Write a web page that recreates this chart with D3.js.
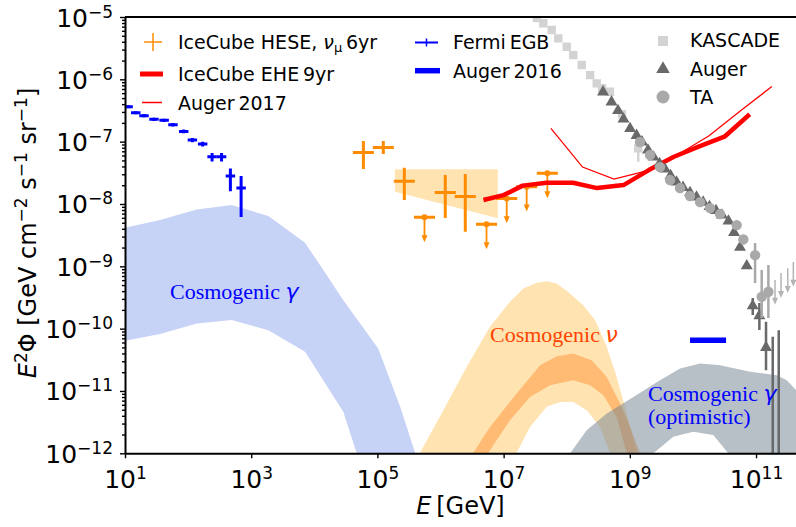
<!DOCTYPE html>
<html>
<head>
<meta charset="utf-8">
<script src="https://cdn.jsdelivr.net/npm/d3@7"></script>
<style>
body { margin: 0; background: #fff; }
svg { display: block; font-family: "DejaVu Sans", sans-serif; }
</style>
</head>
<body>
<div id="chart"></div>
<script>
// ---- data (E in GeV, E^2 Phi in GeV cm^-2 s^-1 sr^-1) ----
const fermiE  = [11.2, 14.8, 20.0, 28.8, 41.7, 57.5, 85.1, 117, 170, 240, 339, 468, 692];
const fermiF  = [3.63e-7, 2.91e-7, 2.61e-7, 2.28e-7, 2.20e-7, 1.87e-7, 1.46e-7, 1.06e-7, 9.16e-8, 5.73e-8, 5.73e-8, 2.81e-8, 1.80e-8];
const fermiLo = [3.42e-7, 2.74e-7, 2.46e-7, 2.14e-7, 2.07e-7, 1.75e-7, 1.36e-7, 0.98e-7, 8.4e-8, 4.8e-8, 4.8e-8, 1.6e-8, 6.2e-9];
const fermiHi = [3.85e-7, 3.08e-7, 2.77e-7, 2.42e-7, 2.34e-7, 1.99e-7, 1.56e-7, 1.14e-7, 1.0e-7, 6.6e-8, 6.6e-8, 3.7e-8, 2.8e-8];
const fermiHalfDex = 0.075;

const heseE  = [6.0e4, 1.24e5, 2.67e5, 1.19e6, 2.47e6];
const heseF  = [6.73e-8, 8.09e-8, 2.31e-8, 1.53e-8, 1.32e-8];
const heseLo = [3.63e-8, 6.32e-8, 1.16e-8, 5.94e-9, 3.58e-9];
const heseHi = [1.02e-7, 1.02e-7, 3.81e-8, 2.91e-8, 3.02e-8];
const heseUlE = [5.57e5, 5.36e6, 1.12e7, 2.32e7, 4.93e7];
const heseUlF = [6.10e-9, 4.71e-9, 1.23e-8, 1.89e-8, 3.10e-8];
const heseHalfDex = 1 / 6;

const heseBandE  = [1.9e5, 8.1e6];
const heseBandHi = [3.6e-8, 3.6e-8];
const heseBandLo = [1.57e-8, 5.9e-9];

const eheE = [4.79e6, 1e7, 2.0e7, 4.79e7, 1.26e8, 3.02e8, 7.94e8, 2.0e9, 5.0e9, 1.26e10, 3.16e10, 7.94e10];
const eheF = [1.16e-8, 1.39e-8, 1.97e-8, 2.19e-8, 2.19e-8, 1.80e-8, 2.01e-8, 3.50e-8, 5.73e-8, 8.41e-8, 1.20e-7, 2.75e-7];

const auger17E = [5.62e7, 1.78e8, 5.62e8, 1.78e9, 5.62e9, 1.78e10, 5.62e10, 1.78e11];
const auger17F = [1.63e-7, 3.91e-8, 2.51e-8, 3.37e-8, 6.1e-8, 1.23e-7, 3.10e-7, 7.66e-7];

const auger16E = [9.0e9, 3.35e10];
const auger16F = [6.5e-11, 6.5e-11];

const kascadeE  = [2.62e7, 3.38e7, 4.26e7, 5.78e7, 7.36e7, 1.0e8, 1.27e8, 1.73e8, 2.35e8, 2.99e8, 3.63e8, 4.85e8, 7.52e8, 1.36e9];
const kascadeF  = [1.29e-5, 9.64e-6, 7.93e-6, 6.18e-6, 4.55e-6, 3.33e-6, 2.45e-6, 1.70e-6, 1.17e-6, 8.63e-7, 7.24e-7, 6.32e-7, 2.77e-7, 7.80e-8];
const kascadeLo = [null, null, null, null, null, null, null, null, null, null, null, null, null, 4.75e-8];
const kascadeHi = [null, null, null, null, null, null, null, null, null, null, null, null, null, 1.06e-7];

const augerE  = [3.76e8, 5.13e8, 6.50e8, 7.94e8, 1.01e9, 1.28e9, 1.56e9, 1.94e9, 2.38e9, 2.96e9, 3.61e9, 4.42e9, 5.50e9, 6.97e9, 8.99e9,
                 1.14e10, 1.45e10, 1.83e10, 2.32e10, 2.89e10, 3.66e10, 4.48e10, 5.57e10, 7.13e10, 8.87e10, 1.13e11, 1.44e11, 1.84e11, 2.29e11];
const augerF  = [6.03e-7, 4.17e-7, 3.04e-7, 2.22e-7, 1.56e-7, 1.21e-7, 9.51e-8, 7.06e-8, 5.46e-8, 4.29e-8, 3.50e-8, 2.75e-8, 2.16e-8, 1.77e-8, 1.47e-8,
                 1.24e-8, 1.03e-8, 8.75e-9, 7.55e-9, 6.40e-9, 5.13e-9, 3.35e-9, 1.94e-9, 9.82e-10, 2.24e-10, 1.55e-10, 4.81e-11, 5e-13, 5e-13];
const augerLo = [null, null, null, null, null, null, null, null, null, null, null, null, null, null, null,
                 null, null, null, null, null, null, null, null, null, 1.66e-10, 9.55e-11, 2.16e-11, 1e-13, 1e-13];
const augerHi = [null, null, null, null, null, null, null, null, null, null, null, null, null, null, null,
                 null, null, null, null, null, null, null, null, null, 3.09e-10, 2.57e-10, 1.29e-10, 7.38e-11, 9.46e-11];

const taE  = [1.45e9, 2.09e9, 3.01e9, 4.34e9, 6.25e9, 8.99e9, 1.30e10, 1.87e10, 2.69e10, 4.94e10, 6.30e10, 9.66e10, 1.23e11, 1.57e11];
const taF  = [9.86e-8, 6.10e-8, 3.91e-8, 2.42e-8, 1.80e-8, 1.34e-8, 1.07e-8, 8.59e-9, 6.89e-9, 4.58e-9, 2.70e-9, 1.51e-9, 3.24e-10, 3.90e-10];
const taLo = [null, null, null, null, null, null, null, null, null, null, null, 5.4e-10, 1.48e-10, 1.48e-10];
const taHi = [null, null, null, null, null, null, null, null, null, null, null, 2.36e-9, 8.69e-10, 1.05e-9];
const taUlE = [2.0e11, 2.49e11, 3.18e11, 3.90e11];
const taUlF = [6.03e-10, 7.78e-10, 9.35e-10, 1.17e-9];

const ulFactor = 0.4;

// cosmogenic gamma band (upper and lower edges)
const cgUpE = [7.94, 10, 35.9, 137, 491, 1870, 7130, 1.39e4, 2.88e4, 1.03e5, 2.29e5, 3.98e5, 4.47e5];
const cgUpF = [3.98e-9, 4.15e-9, 5.52e-9, 8.18e-9, 9.59e-9, 6.40e-9, 2.38e-9, 8.69e-10, 2.86e-10, 4.81e-11, 5.62e-12, 1e-12, 6.3e-13];
const cgLoE = [7.94, 10, 35.9, 137, 491, 1870, 7130, 2.88e4, 4.70e4, 5.62e4];
const cgLoF = [6.17e-11, 6.37e-11, 8.17e-11, 1.21e-10, 1.37e-10, 9.46e-11, 4.25e-11, 4.62e-12, 1e-12, 6.3e-13];

// cosmogenic neutrino, wide band
const cnUpE = [3.98e5, 4.73e5, 1.11e6, 2.60e6, 6.08e6, 1.26e7, 2.05e7, 3.35e7, 4.82e7, 6.95e7, 1.13e8, 1.83e8, 2.81e8, 4.31e8, 6.19e8, 8.93e8, 1.29e9, 1.41e9];
const cnUpF = [7.08e-13, 1.02e-12, 4.92e-12, 2.44e-11, 1.07e-10, 2.69e-10, 4.42e-10, 5.43e-10, 5.78e-10, 5.32e-10, 3.67e-10, 2.38e-10, 1.37e-10, 5.11e-11, 1.68e-11, 4.36e-12, 1.02e-12, 7.08e-13];
const cnLoE = [1.41e7, 1.61e7, 2.62e7, 4.82e7, 7.83e7, 1.27e8, 2.07e8, 3.37e8, 4.85e8, 5.50e8];
const cnLoF = [7.08e-13, 1.02e-12, 2.65e-12, 5.56e-12, 6.68e-12, 6.68e-12, 4.92e-12, 2.65e-12, 1.02e-12, 7.08e-13];

// cosmogenic neutrino, inner band
const ciUpE = [2.82e6, 3.31e6, 6.08e6, 1.61e7, 3.78e7, 6.95e7, 1.27e8, 2.49e8, 4.31e8, 7.00e8, 1.01e9, 1.45e9, 1.58e9];
const ciUpF = [7.08e-13, 1.02e-12, 2.65e-12, 9.12e-12, 2.59e-11, 3.62e-11, 4.0e-11, 3.12e-11, 1.68e-11, 6.30e-12, 2.65e-12, 1.02e-12, 7.08e-13];
const ciLoE = [5.01e6, 5.73e6, 1.26e7, 2.62e7, 5.43e7, 1.27e8, 2.34e8, 3.80e8, 6.19e8, 8.93e8, 9.55e8];
const ciLoF = [7.08e-13, 1.02e-12, 3.39e-12, 8.04e-12, 1.24e-11, 1.49e-11, 1.24e-11, 8.57e-12, 3.84e-12, 1.02e-12, 7.08e-13];

// cosmogenic gamma (optimistic)
const coUpE = [8.91e7, 1.13e8, 2.07e8, 4.31e8, 1.14e9, 3.01e9, 6.25e9, 1.30e10, 2.69e10, 8.04e10, 2.13e11, 3.07e11, 4.31e11, 5.62e11];
const coUpF = [7.08e-13, 9.93e-13, 2.35e-12, 4.36e-12, 8.04e-12, 1.49e-11, 2.30e-11, 2.76e-11, 2.59e-11, 2.03e-11, 1.79e-11, 1.49e-11, 1.03e-11, 7.08e-12];
const coLoE = [2.0e9, 2.36e9, 4.89e9, 1.01e10, 2.10e10, 3.64e10, 4.17e10, 5.62e11];
const coLoF = [7.08e-13, 1e-12, 1.85e-12, 2.22e-12, 1.97e-12, 1e-12, 7.08e-13, 7.08e-13];

const xTicks = [1e1, 1e3, 1e5, 1e7, 1e9, 1e11];
const yTicks = [1e-12, 1e-11, 1e-10, 1e-9, 1e-8, 1e-7, 1e-6, 1e-5];

// ---- layout ----
const w = 796, h = 527;
const padLeft = 125, padTop = 17, axisBottom = 453.3;

const svg = d3.select("#chart").append("svg").attr("width", w).attr("height", h);

const x = d3.scaleLog().domain([1e1, 4.3e11]).range([padLeft, w]);
const y = d3.scaleLog().domain([1e-12, 1e-5]).range([axisBottom, padTop]);

svg.append("clipPath").attr("id", "plotClip")
    .append("rect").attr("x", padLeft).attr("y", padTop).attr("width", w - padLeft + 10).attr("height", axisBottom - padTop);

const plot = svg.append("g").attr("clip-path", "url(#plotClip)");

const line = d3.line().x(d => x(d[0])).y(d => y(d[1]));
const zip = (a, b) => a.map((v, i) => [v, b[i]]);

function band(upE, upF, loE, loF, color, opacity) {
    const pts = zip(upE, upF).concat(zip(loE, loF).reverse());
    plot.append("path").attr("d", line(pts) + "Z").attr("fill", color).attr("fill-opacity", opacity).attr("stroke", "none");
}

// bands
band(cgUpE, cgUpF, cgLoE, cgLoF, "rgb(65,105,225)", 0.3);
band(cnUpE, cnUpF, cnLoE, cnLoF, "orange", 0.3);
band(ciUpE, ciUpF, ciLoE, ciLoF, "#ff7000", 0.35);
band(coUpE, coUpF, coLoE, coLoF, "slategray", 0.5);
band(heseBandE, heseBandHi, heseBandE, heseBandLo, "orange", 0.3);

// error bar helpers
function crosses(E, F, lo, hi, halfDex, color, width) {
    const g = plot.append("g").attr("stroke", color).attr("stroke-width", width);
    E.forEach((e, i) => {
        if (lo[i] !== null) {
            g.append("line").attr("x1", x(e)).attr("x2", x(e)).attr("y1", y(lo[i])).attr("y2", y(hi[i]));
        }
        if (halfDex > 0) {
            g.append("line").attr("x1", x(e / Math.pow(10, halfDex))).attr("x2", x(e * Math.pow(10, halfDex)))
                .attr("y1", y(F[i])).attr("y2", y(F[i]));
        }
    });
}

function upperLimits(E, F, halfDex, color, barWidth, stemWidth) {
    const g = plot.append("g");
    E.forEach((e, i) => {
        const px = x(e), py = y(F[i]), pe = y(F[i] * ulFactor);
        if (halfDex > 0) {
            g.append("line").attr("x1", x(e / Math.pow(10, halfDex))).attr("x2", x(e * Math.pow(10, halfDex)))
                .attr("y1", py).attr("y2", py).attr("stroke", color).attr("stroke-width", barWidth);
            g.append("circle").attr("cx", px).attr("cy", py).attr("r", 3).attr("fill", color);
        }
        g.append("line").attr("x1", px).attr("x2", px).attr("y1", py).attr("y2", pe - 6)
            .attr("stroke", color).attr("stroke-width", stemWidth);
        g.append("path").attr("d", `M${px - 3},${pe - 7}L${px + 3},${pe - 7}L${px},${pe}Z`).attr("fill", color);
    });
}

// HESE and Fermi
crosses(fermiE, fermiF, fermiLo, fermiHi, fermiHalfDex, "blue", 3);
crosses(heseE, heseF, heseLo, heseHi, heseHalfDex, "darkorange", 3);
upperLimits(heseUlE, heseUlF, heseHalfDex, "darkorange", 3, 1.8);

// neutrino limits
plot.append("path").attr("d", line(zip(auger17E, auger17F))).attr("fill", "none").attr("stroke", "red").attr("stroke-width", 1.3);
plot.append("path").attr("d", line(zip(eheE, eheF))).attr("fill", "none").attr("stroke", "red").attr("stroke-width", 4.5)
    .attr("stroke-linejoin", "round");
plot.append("path").attr("d", line(zip(auger16E, auger16F))).attr("fill", "none").attr("stroke", "blue").attr("stroke-width", 5.5);

// cosmic rays
const sq = d3.symbol().type(d3.symbolSquare).size(70);
const tri = d3.symbol().type(d3.symbolTriangle).size(62);

crosses(kascadeE, kascadeF, kascadeLo, kascadeHi, 0, "lightgray", 2.5);
plot.append("g").selectAll("path").data(zip(kascadeE, kascadeF)).join("path")
    .attr("d", sq).attr("transform", d => `translate(${x(d[0])},${y(d[1])})`).attr("fill", "lightgray");

crosses(augerE, augerF, augerLo, augerHi, 0, "dimgray", 2.5);
plot.append("g").selectAll("path").data(zip(augerE, augerF)).join("path")
    .attr("d", tri).attr("transform", d => `translate(${x(d[0])},${y(d[1]) - 1})`).attr("fill", "dimgray");

crosses(taE, taF, taLo, taHi, 0, "darkgray", 2.5);
plot.append("g").selectAll("circle").data(zip(taE, taF)).join("circle")
    .attr("cx", d => x(d[0])).attr("cy", d => y(d[1])).attr("r", 5.2).attr("fill", "darkgray");
upperLimits(taUlE, taUlF, 0, "#b4b4b4", 0, 1.5);

// ---- axes ----
function richText(sel, parts, smallSize, shift) {
    let cur = 0;
    parts.forEach(p => {
        const target = p.sup ? -shift : (p.sub ? shift * 0.55 : 0);
        const ts = sel.append("tspan").attr("dy", target - cur).text(p.t);
        cur = target;
        if (p.sup || p.sub) ts.attr("font-size", smallSize);
        if (p.it) ts.attr("font-style", "italic");
        if (p.font) ts.attr("font-family", p.font);
    });
}
const expo = v => {
    const e = Math.round(Math.log10(v));
    return e < 0 ? "\u2212" + (-e) : String(e);
};

const xAxis = svg.append("g").attr("transform", `translate(0,${axisBottom})`)
    .call(d3.axisBottom(x).tickValues(xTicks).tickSize(5).tickSizeOuter(0).tickFormat(""));
const yAxis = svg.append("g").attr("transform", `translate(${padLeft},0)`)
    .call(d3.axisLeft(y).tickValues(yTicks).tickSize(5).tickSizeOuter(0).tickFormat(""));

const yMinor = [];
yTicks.slice(0, -1).forEach(t => { for (let k = 2; k < 10; k++) yMinor.push(t * k); });
svg.append("g").attr("transform", `translate(${padLeft},0)`)
    .call(d3.axisLeft(y).tickValues(yMinor).tickSize(3).tickFormat(""))
    .call(g => g.select(".domain").remove());

[xAxis, yAxis].forEach(g => {
    g.attr("font-size", null).attr("font-family", null);
    g.select(".domain").attr("stroke-width", 2);
});
svg.selectAll(".tick line").attr("stroke-width", 1.4);

xAxis.selectAll(".tick text")
    .attr("y", 34.5).attr("dy", null).attr("font-size", 25).attr("fill", "#000")
    .each(function (d) { richText(d3.select(this), [{ t: "10" }, { t: expo(d), sup: 1 }], 17, 9); });
yAxis.selectAll(".tick text")
    .attr("x", -12).attr("dy", null).attr("y", 9).attr("font-size", 25).attr("fill", "#000")
    .each(function (d) { richText(d3.select(this), [{ t: "10" }, { t: expo(d), sup: 1 }], 17, 9); });

// top spine
svg.append("line").attr("x1", padLeft).attr("x2", w).attr("y1", padTop).attr("y2", padTop).attr("stroke", "#000").attr("stroke-width", 2);

// axis labels
const xl = svg.append("text").attr("x", (padLeft + w) / 2).attr("y", 514).attr("text-anchor", "middle").attr("font-size", 24);
richText(xl, [{ t: "E", it: 1 }, { t: "\u2009[GeV]" }], 17, 9);

const yl = svg.append("text").attr("transform", "translate(36,233) rotate(-90)").attr("text-anchor", "middle").attr("font-size", 24);
richText(yl, [{ t: "E", it: 1 }, { t: "2", sup: 1 }, { t: "\u03A6 [GeV cm" }, { t: "\u22122", sup: 1 },
    { t: " s" }, { t: "\u22121", sup: 1 }, { t: " sr" }, { t: "\u22121", sup: 1 }, { t: "]" }], 17, 9);

// band labels
const serif = "'Liberation Serif', 'Times New Roman', serif";
const lab1 = svg.append("text").attr("x", 170).attr("y", 299).attr("font-size", 22).attr("fill", "blue").attr("font-family", serif);
richText(lab1, [{ t: "Cosmogenic " }, { t: "\u03B3", it: 1, font: "DejaVu Sans" }], 22, 0);
const lab2 = svg.append("text").attr("x", 490).attr("y", 342).attr("font-size", 22).attr("fill", "orangered").attr("font-family", serif);
richText(lab2, [{ t: "Cosmogenic " }, { t: "\u03BD", it: 1, font: "DejaVu Sans" }], 22, 0);
const lab3 = svg.append("text").attr("x", 648).attr("y", 401).attr("font-size", 22).attr("fill", "blue").attr("font-family", serif);
richText(lab3, [{ t: "Cosmogenic " }, { t: "\u03B3", it: 1, font: "DejaVu Sans" }], 22, 0);
svg.append("text").attr("x", 648).attr("y", 424).attr("font-size", 22).attr("fill", "blue").attr("font-family", serif).text("(optimistic)");

// ---- legend ----
const leg = svg.append("g").attr("font-size", 19);
function legText(tx, ty, parts) {
    const t = leg.append("text").attr("x", tx).attr("y", ty + 7);
    richText(t, parts, 13, 6);
}
// column 1
leg.append("line").attr("x1", 144).attr("x2", 162).attr("y1", 42).attr("y2", 42).attr("stroke", "darkorange").attr("stroke-width", 1.5);
leg.append("line").attr("x1", 153).attr("x2", 153).attr("y1", 33).attr("y2", 51).attr("stroke", "darkorange").attr("stroke-width", 1.5);
legText(178, 42, [{ t: "IceCube HESE, " }, { t: "\u03BD", it: 1 }, { t: "\u03BC", sub: 1 }, { t: "\u20096yr" }]);
leg.append("line").attr("x1", 140).attr("x2", 163).attr("y1", 74).attr("y2", 74).attr("stroke", "red").attr("stroke-width", 5);
legText(178, 74, [{ t: "IceCube EHE\u20099yr" }]);
leg.append("line").attr("x1", 142).attr("x2", 162).attr("y1", 102.5).attr("y2", 102.5).attr("stroke", "red").attr("stroke-width", 1.5);
legText(178, 102.5, [{ t: "Auger\u20092017" }]);
// column 2
leg.append("line").attr("x1", 415).attr("x2", 438).attr("y1", 42.5).attr("y2", 42.5).attr("stroke", "blue").attr("stroke-width", 2);
leg.append("line").attr("x1", 426.5).attr("x2", 426.5).attr("y1", 38.5).attr("y2", 46.5).attr("stroke", "blue").attr("stroke-width", 1.5);
legText(453, 42, [{ t: "Fermi\u2009EGB" }]);
leg.append("line").attr("x1", 415).attr("x2", 440).attr("y1", 70.7).attr("y2", 70.7).attr("stroke", "blue").attr("stroke-width", 5.5);
legText(453, 70.7, [{ t: "Auger\u20092016" }]);
// column 3
leg.append("path").attr("d", d3.symbol().type(d3.symbolSquare).size(100)()).attr("transform", "translate(663,41)").attr("fill", "lightgray");
legText(690, 40, [{ t: "KASCADE" }]);
leg.append("path").attr("d", d3.symbol().type(d3.symbolTriangle).size(80)()).attr("transform", "translate(663,69)").attr("fill", "dimgray");
legText(690, 69, [{ t: "Auger" }]);
leg.append("circle").attr("cx", 663).attr("cy", 97).attr("r", 6.5).attr("fill", "darkgray");
legText(690, 97, [{ t: "TA" }]);
</script>
</body>
</html>
